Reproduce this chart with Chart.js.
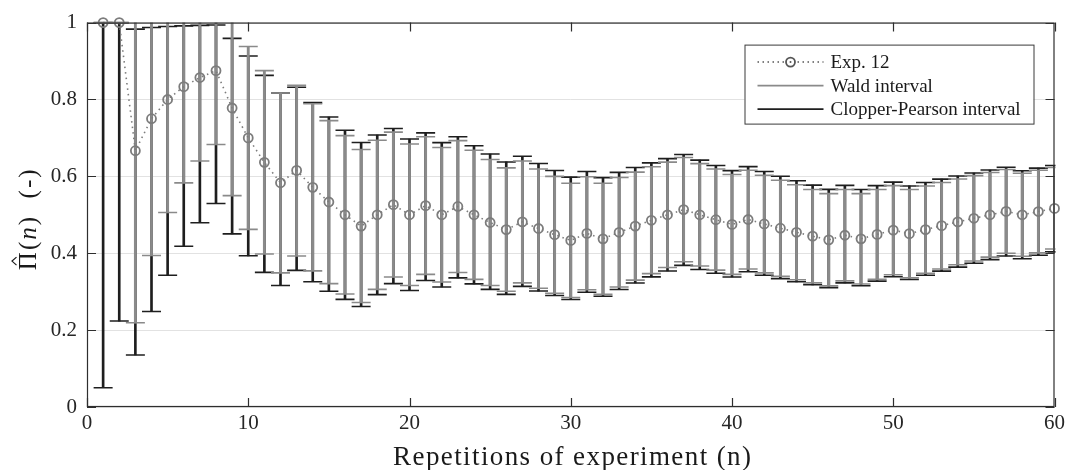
<!DOCTYPE html>
<html><head><meta charset="utf-8">
<script src="https://cdn.jsdelivr.net/npm/chart.js@4/dist/chart.umd.min.js"></script>
<style>html,body{margin:0;padding:0;background:#fff}#wrap{width:1069px;height:470px}</style>
</head><body><div id="wrap"><canvas id="c" width="1069" height="470"></canvas></div>
<script>
// ---- data ----
const repetitions = [1,2,3,4,5,6,7,8,9,10,11,12,13,14,15,16,17,18,19,20,21,22,23,24,25,26,27,28,29,30,
  31,32,33,34,35,36,37,38,39,40,41,42,43,44,45,46,47,48,49,50,51,52,53,54,55,56,57,58,59,60];
const estimate = [1,1,0.6667,0.75,0.8,0.8333,0.8571,0.875,0.7778,0.7,0.6364,0.5833,0.6154,0.5714,0.5333,0.5,0.4706,0.5,0.5263,0.5,
  0.5238,0.5,0.5217,0.5,0.48,0.4615,0.4815,0.4643,0.4483,0.4333,0.4516,0.4375,0.4545,0.4706,0.4857,0.5,0.5135,0.5,0.4872,0.475,
  0.4878,0.4762,0.4651,0.4545,0.4444,0.4348,0.4468,0.4375,0.449,0.46,0.451,0.4615,0.4717,0.4815,0.4909,0.5,0.5088,0.5,0.5085,0.5167];
const waldLower = [1,1,0.219,0.394,0.506,0.583,0.640,0.683,0.550,0.462,0.398,0.349,0.393,0.354,0.321,0.294,0.272,0.306,0.338,0.316,
  0.345,0.325,0.350,0.332,0.316,0.301,0.323,0.309,0.296,0.285,0.305,0.293,0.312,0.330,0.347,0.363,0.378,0.367,0.356,0.345,
  0.359,0.349,0.340,0.331,0.323,0.315,0.328,0.320,0.332,0.344,0.336,0.348,0.359,0.370,0.380,0.390,0.400,0.392,0.401,0.411];
const waldUpper = [1,1,1.114,1.106,1.094,1.084,1.075,1.067,1.006,0.938,0.875,0.817,0.837,0.789,0.745,0.706,0.670,0.694,0.715,0.684,
  0.703,0.675,0.693,0.668,0.644,0.622,0.640,0.619,0.600,0.582,0.599,0.582,0.597,0.611,0.625,0.637,0.649,0.633,0.619,0.605,
  0.616,0.603,0.590,0.578,0.566,0.555,0.566,0.555,0.566,0.576,0.566,0.575,0.584,0.593,0.602,0.610,0.618,0.608,0.616,0.623];
const cpLower = [0.05,0.2236,0.1353,0.2486,0.3427,0.4182,0.4793,0.5293,0.4503,0.3933,0.3502,0.3161,0.3553,0.3260,0.3011,0.2800,0.2616,0.2924,0.3210,0.3030,
  0.3289,0.3122,0.3358,0.3203,0.3061,0.2930,0.3139,0.3016,0.2902,0.2797,0.2984,0.2882,0.3057,0.3225,0.3385,0.3539,0.3685,0.3578,0.3478,0.3382,
  0.3518,0.3427,0.3340,0.3257,0.3179,0.3105,0.3228,0.3156,0.3275,0.3389,0.3317,0.3427,0.3534,0.3638,0.3738,0.3835,0.3930,0.3856,0.3948,0.4036];
const cpUpper = [1,1,0.9830,0.9873,0.9898,0.9915,0.9927,0.9936,0.9590,0.9131,0.8628,0.8167,0.8320,0.7918,0.7545,0.7200,0.6882,0.7076,0.7247,0.6970,
  0.7130,0.6878,0.7029,0.6797,0.6580,0.6375,0.6524,0.6334,0.6153,0.5981,0.6127,0.5966,0.6103,0.6231,0.6350,0.6461,0.6567,0.6422,0.6283,0.6149,
  0.6252,0.6125,0.6003,0.5885,0.5772,0.5662,0.5765,0.5660,0.5758,0.5851,0.5751,0.5841,0.5927,0.6009,0.6088,0.6165,0.6237,0.6144,0.6214,0.6283];
const xTicks = [0,10,20,30,40,50,60];
const yTicks = [0,0.2,0.4,0.6,0.8,1];
const seriesNames = ['Exp. 12','Wald interval','Clopper-Pearson interval'];
const xTitle = 'Repetitions of experiment (n)';

// ---- styles ----
const GRAY = '#8a8a8a', BLACK = '#1e1e1e', MARK = '#7c7c7c', AXIS = '#2e2e2e';
const SERIF = "'Liberation Serif','Times New Roman',serif";

const pts = (ys) => repetitions.map((n,i)=>({x:n,y:ys[i]}));
const ranges = (lo,hi) => repetitions.map((n,i)=>({x:n,y:[lo[i],hi[i]]}));
const caps = (lo,hi) => repetitions.flatMap((n,i)=>[{x:n,y:lo[i]},{x:n,y:hi[i]}]);

const framePlugin = {
  id:'frame',
  afterDatasetsDraw(chart){
    const {ctx, chartArea:a, scales:{x,y}} = chart;
    ctx.save();
    ctx.strokeStyle = AXIS; ctx.lineWidth = 1.2;
    ctx.strokeRect(a.left+0.5, a.top+0.5, a.right-a.left-1, a.bottom-a.top-1);
    ctx.beginPath();
    const L = 9;
    yTicks.forEach(v=>{ const py = Math.round(y.getPixelForValue(v))+0.5;
      ctx.moveTo(a.left, py); ctx.lineTo(a.left+L, py);
      ctx.moveTo(a.right, py); ctx.lineTo(a.right-L, py); });
    xTicks.forEach(v=>{ const px = Math.round(x.getPixelForValue(v))+0.5;
      ctx.moveTo(px, a.bottom); ctx.lineTo(px, a.bottom-L);
      ctx.moveTo(px, a.top); ctx.lineTo(px, a.top+L); });
    ctx.stroke();
    ctx.restore();
  },
  afterDraw(chart){
    const {ctx, chartArea:a} = chart;
    ctx.save();
    // legend
    const bx = a.right-310, by = a.top+22, bw = 289, bh = 79;
    ctx.fillStyle = '#fff'; ctx.fillRect(bx,by,bw,bh);
    ctx.strokeStyle = '#3a3a3a'; ctx.lineWidth = 1; ctx.strokeRect(bx+0.5,by+0.5,bw,bh);
    const rows = [by+17.5, by+41, by+64.5];
    const x0 = bx+13, x1 = bx+79, tx = bx+86;
    ctx.strokeStyle = '#555'; ctx.lineWidth = 1.5; ctx.setLineDash([1.5,3.5]);
    ctx.beginPath(); ctx.moveTo(x0,rows[0]); ctx.lineTo(x1,rows[0]); ctx.stroke();
    ctx.setLineDash([]);
    ctx.lineWidth = 1.8;
    ctx.beginPath(); ctx.arc((x0+x1)/2, rows[0], 4.5, 0, Math.PI*2); ctx.fillStyle='#fff'; ctx.fill(); ctx.stroke();
    ctx.beginPath(); ctx.arc((x0+x1)/2, rows[0], 1, 0, Math.PI*2); ctx.fillStyle='#555'; ctx.fill();
    ctx.strokeStyle = GRAY; ctx.lineWidth = 1.6;
    ctx.beginPath(); ctx.moveTo(x0,rows[1]); ctx.lineTo(x1,rows[1]); ctx.stroke();
    ctx.strokeStyle = BLACK;
    ctx.beginPath(); ctx.moveTo(x0,rows[2]); ctx.lineTo(x1,rows[2]); ctx.stroke();
    ctx.fillStyle = '#1a1a1a'; ctx.font = '19px '+SERIF; ctx.textBaseline = 'middle'; ctx.textAlign = 'left';
    seriesNames.forEach((s,i)=>ctx.fillText(s, tx, rows[i]+1));
    // x title
    ctx.font = '27px '+SERIF; ctx.textAlign='center'; ctx.textBaseline='alphabetic';
    if ('letterSpacing' in ctx) ctx.letterSpacing = '1.4px';
    ctx.fillText(xTitle, (a.left+a.right)/2+2, 465);
    // y title (rotated): Pi with hat, (n) italic, (-)
    ctx.translate(36, (a.top+a.bottom)/2+4);
    ctx.rotate(-Math.PI/2);
    if ('letterSpacing' in ctx) ctx.letterSpacing = '2px';
    const parts = [['\u03A0','25px '],['(','25px '],['n','italic 25px '],[')','25px '],['  (-)','25px ']];
    let w = 0; parts.forEach(p=>{ctx.font=p[1]+SERIF; w+=ctx.measureText(p[0]).width;});
    let cx = -w/2; ctx.textAlign='left';
    parts.forEach((p,i)=>{
      ctx.font=p[1]+SERIF; const pw = ctx.measureText(p[0]).width;
      ctx.fillText(p[0], cx, 0);
      if (i===0){ // circumflex accent over Pi
        const mx = cx + (pw-2)/2;
        ctx.strokeStyle = '#1a1a1a'; ctx.lineWidth = 1.2;
        ctx.beginPath(); ctx.moveTo(mx-4, -19.5); ctx.lineTo(mx, -24); ctx.lineTo(mx+4, -19.5); ctx.stroke();
      }
      cx += pw;
    });
    ctx.restore();
  }
};

new Chart(document.getElementById('c'), {
  type:'line',
  data:{datasets:[
    {label:seriesNames[0], type:'line', data:pts(estimate), borderColor:MARK, borderWidth:1.6, borderDash:[1.5,4],
     pointStyle:'circle', pointRadius:4.5, pointBorderColor:MARK, pointBackgroundColor:'rgba(0,0,0,0)', pointBorderWidth:1.8,
     clip:false, order:0},
    {label:seriesNames[1], type:'bar', data:ranges(waldLower,waldUpper), backgroundColor:GRAY, borderWidth:0,
     barThickness:2.2, grouped:false, clip:0, order:1},
    {label:seriesNames[1]+' caps', type:'line', data:caps(waldLower,waldUpper), showLine:false,
     pointStyle:'line', pointRadius:9.5, pointBorderColor:GRAY, pointBorderWidth:1.6, clip:1, order:2},
    {label:seriesNames[2]+' caps', type:'line', data:caps(cpLower,cpUpper), showLine:false,
     pointStyle:'line', pointRadius:9.5, pointBorderColor:BLACK, pointBorderWidth:1.6, clip:1, order:3},
    {label:seriesNames[2], type:'bar', data:ranges(cpLower,cpUpper), backgroundColor:BLACK, borderWidth:0,
     barThickness:2, grouped:false, clip:0, order:4}
  ]},
  options:{
    responsive:false, animation:false, devicePixelRatio:1,
    layout:{padding:{left:0, top:20, right:12, bottom:0}},
    plugins:{legend:{display:false}, tooltip:{enabled:false}},
    elements:{point:{hoverRadius:4.5}},
    scales:{
      x:{type:'linear', min:0, max:60, offset:false,
         grid:{display:false, drawTicks:false}, border:{display:false},
         afterBuildTicks:s=>{s.ticks = xTicks.map(v=>({value:v}));},
         afterFit:s=>{s.height = 63;},
         ticks:{padding:4, autoSkip:false, maxRotation:0, color:'#262626', font:{family:SERIF, size:21},
                callback:v=>String(v)}},
      y:{type:'linear', min:0, max:1,
         grid:{color:'#e2e2e2', lineWidth:1, drawTicks:false}, border:{display:false},
         afterBuildTicks:s=>{s.ticks = yTicks.map(v=>({value:v}));},
         afterFit:s=>{s.width = 87;},
         ticks:{padding:10, color:'#262626', font:{family:SERIF, size:21}, callback:v=>String(v)}}
    }
  },
  plugins:[framePlugin]
});
</script></body></html>
